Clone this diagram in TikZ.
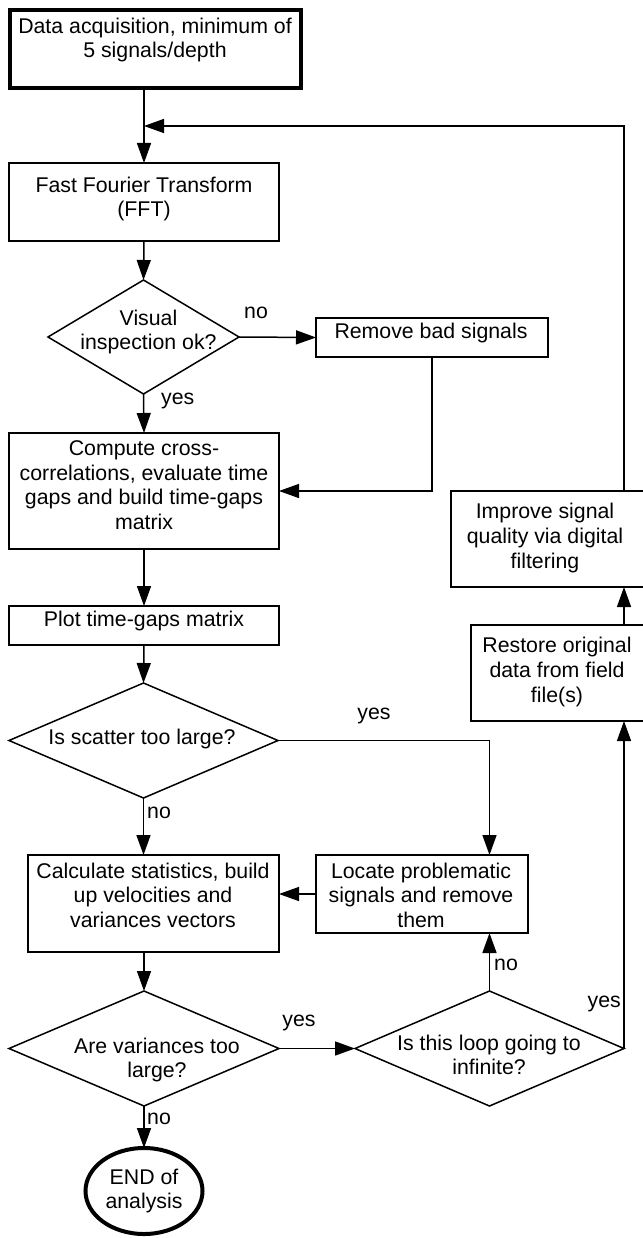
\documentclass[tikz,border=0pt]{standalone}
\usepackage{fontspec}
\setmainfont{Liberation Sans}
\usetikzlibrary{shapes.geometric,arrows.meta}
\begin{document}
\begin{tikzpicture}[x=1pt,y=-1pt,
  ln/.style={line width=1.5pt},
  shp/.style={draw, line width=1.5pt, inner sep=0pt, outer sep=0pt},
  boxshape/.style={shp, rectangle},
  decision/.style={shp, diamond},
  txt/.style={align=center, font=\fontsize{21.3}{24.6}\selectfont, inner sep=0pt},
  lbl/.style={font=\fontsize{21.3}{24.6}\selectfont, inner sep=0pt},
  arr/.style={ln, -{Triangle[length=20pt,width=14pt]}},
]
\useasboundingbox (0,0) rectangle (642,1238);
% shapes
\node[boxshape, line width=4pt, minimum width=291pt, minimum height=78pt] (b1) at (155.5,49) {};
\node[boxshape, minimum width=270pt, minimum height=78pt] (fft) at (144,202) {};
\node[decision, minimum width=191pt, minimum height=114pt] (d1) at (143.5,337) {};
\node[boxshape, minimum width=232pt, minimum height=39pt] (rm) at (432,337.5) {};
\node[boxshape, minimum width=270pt, minimum height=116pt] (cmp) at (144,491) {};
\node[boxshape, minimum width=270pt, minimum height=39pt] (plot) at (144,625.5) {};
\node[decision, minimum width=269pt, minimum height=115pt] (d2) at (143.5,740.5) {};
\node[boxshape, minimum width=251pt, minimum height=97pt] (calc) at (153.5,903.5) {};
\node[boxshape, minimum width=212pt, minimum height=78pt] (loc) at (422,894) {};
\node[decision, minimum width=270pt, minimum height=115pt] (d3) at (144,1048.5) {};
\node[decision, minimum width=269pt, minimum height=115pt] (d4) at (489.5,1048.5) {};
\node[boxshape, minimum width=194pt, minimum height=96pt] (imp) at (548,539) {};
\node[boxshape, minimum width=174pt, minimum height=96pt] (rst) at (558,673) {};
\node[shp, ellipse, line width=4pt, minimum width=117pt, minimum height=86pt] (end) at (144,1191) {};
% texts
\node[txt] (tb1) at (155,40) {Data acquisition, minimum of\\5 signals/depth};
\node[txt] (tfft) at (144,199) {Fast Fourier Transform\\(FFT)};
\node[txt] (td1) at (148.5,332) {Visual\\inspection ok?};
\node[txt] (trm) at (431,333) {Remove bad signals};
\node[txt] (tcmp) at (144,485) {Compute cross-\\correlations, evaluate time\\gaps and build time-gaps\\matrix};
\node[txt] (tplot) at (144,621) {Plot time-gaps matrix};
\node[txt] (td2) at (142,739) {Is scatter too large?};
\node[txt] (tcalc) at (153,895) {Calculate statistics, build\\up velocities and\\variances vectors};
\node[txt] (tloc) at (421,895) {Locate problematic\\signals and remove\\them};
\node[txt] (td3) at (157,1060) {Are variances too\\large?};
\node[txt] (td4) at (489,1055) {Is this loop going to\\infinite?};
\node[txt] (timp) at (545,538) {Improve signal\\quality via digital\\filtering};
\node[txt] (trst) at (557,672) {Restore original\\data from field\\file(s)};
\node[txt] (tend) at (144,1191) {END of\\analysis};
% connectors
\coordinate (join) at (144,126);
\draw[arr] (fft.north |- b1.south) -- (fft.north);
\draw[arr] (d4.east |- imp.north) |- (join);
\draw[arr] (fft.south) -- (d1.north);
\draw[arr] (d1.east) -- (rm.west);
\draw[arr] (rm.south) |- (cmp.east);
\draw[arr] (d1.south) -- (cmp.north);
\draw[arr] (cmp.south) -- (plot.north);
\draw[arr] (plot.south) -- (d2.north);
\draw[arr] (d2.east) -| (d4.north |- loc.north);
\draw[arr] (d2.south) -- (d2.south |- calc.north);
\draw[arr] (loc.west) -- (loc.west -| calc.east);
\draw[arr] (d3.north |- calc.south) -- (d3.north);
\draw[arr] (d3.east) -- (d4.west);
\draw[arr] (d4.north) -- (d4.north |- loc.south);
\draw[arr] (d4.east) -- (d4.east |- rst.south);
\draw[arr] (d4.east |- rst.north) -- (d4.east |- imp.south);
\draw[arr] (d3.south) -- (end.north);
% labels
\node[lbl] (l1) at (256,313) {no};
\node[lbl, anchor=west] (l2) at (161,401) {yes};
\node[lbl] (l3) at (374,716) {yes};
\node[lbl, anchor=west] (l4) at (147,813) {no};
\node[lbl] (l5) at (299,1023) {yes};
\node[lbl, anchor=west] (l6) at (494,965) {no};
\node[lbl, anchor=east] (l7) at (621,1004) {yes};
\node[lbl, anchor=west] (l8) at (147,1119) {no};
\end{tikzpicture}
\end{document}
